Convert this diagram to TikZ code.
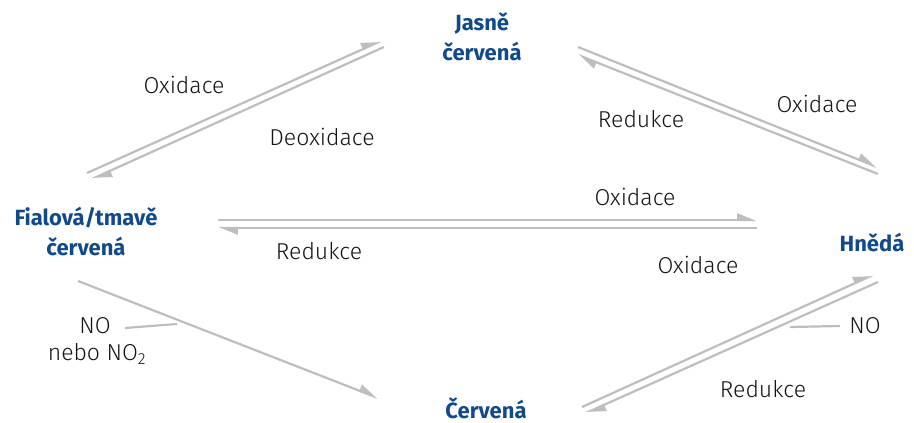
\documentclass[tikz,border=0pt]{standalone}
\usepackage{fontspec}
\setmainfont{Fira Sans}
\newfontfamily\lightfont{Fira Sans Light}
\usetikzlibrary{arrows.meta}
\definecolor{linegray}{RGB}{190,190,190}
\definecolor{stateblue}{RGB}{16,74,140}
\definecolor{textdark}{RGB}{20,20,20}
\begin{document}
\begin{tikzpicture}[x=1pt,y=-1pt,
  lbl/.style={font=\lightfont\fontsize{23}{27}\selectfont, text=textdark, inner sep=0pt},
  state/.style={font=\bfseries\fontsize{22}{30}\selectfont, text=stateblue, align=center, inner sep=0pt},
  flow/.style={draw=linegray, line width=2.2pt, -{Triangle[harpoon,length=17pt,width=13pt]}},
  tick/.style={draw=linegray, line width=2.2pt}]
\useasboundingbox (0,0) rectangle (914,423);

% colour states
\node[state] (jasne)   at (482,37)  {Jasně\\červená};
\node[state] (fialova) at (86,231)  {Fialová/tmavě\\červená};
\node[state] (hneda)   at (872,242) {Hnědá};
\node[state] (cervena) at (486,408) {Červená};

% arrow end points
\coordinate (tl1s) at (87,173);  \coordinate (tl1e) at (381,41);
\coordinate (tl2s) at (384,47);  \coordinate (tl2e) at (92,179);
\coordinate (tr1s) at (578,47);  \coordinate (tr1e) at (877,167);
\coordinate (tr2s) at (878,174); \coordinate (tr2e) at (578,55);
\coordinate (h1s)  at (218,220); \coordinate (h1e)  at (757,220);
\coordinate (h2s)  at (757,228); \coordinate (h2e)  at (218,228);
\coordinate (bls)  at (78,281);  \coordinate (ble)  at (378,398);
\coordinate (br1s) at (582,407); \coordinate (br1e) at (873,275);
\coordinate (br2s) at (878,282); \coordinate (br2e) at (586,413);
\coordinate (nol1) at (125,328); \coordinate (nol2) at (177,324);
\coordinate (nor1) at (790,327); \coordinate (nor2) at (840,326);

% reactions
\draw[flow] (tl1s) -- (tl1e);
\draw[flow] (tl2s) -- (tl2e);
\draw[flow] (tr1s) -- (tr1e);
\draw[flow] (tr2s) -- (tr2e);
\draw[flow] (h1s) -- (h1e);
\draw[flow] (h2s) -- (h2e);
\draw[flow] (bls) -- (ble);
\draw[flow] (br1s) -- (br1e);
\draw[flow] (br2s) -- (br2e);
\draw[tick] (nol1) -- (nol2);
\draw[tick] (nor1) -- (nor2);

% reaction labels
\node[lbl] (ox1)  at (184,85)  {Oxidace};
\node[lbl] (deox) at (322,137) {Deoxidace};
\node[lbl] (red1) at (641,119) {Redukce};
\node[lbl] (ox2)  at (817,104) {Oxidace};
\node[lbl] (ox3)  at (635,197) {Oxidace};
\node[lbl] (red2) at (319,251) {Redukce};
\node[lbl] (ox4)  at (698,265) {Oxidace};
\node[lbl] (red3) at (763,389) {Redukce};
\node[lbl] (no1)  at (95,326)  {NO};
\node[lbl] (no2)  at (97,354)  {nebo NO\textsubscript{2}};
\node[lbl] (no3)  at (865,326) {NO};
\end{tikzpicture}
\end{document}
